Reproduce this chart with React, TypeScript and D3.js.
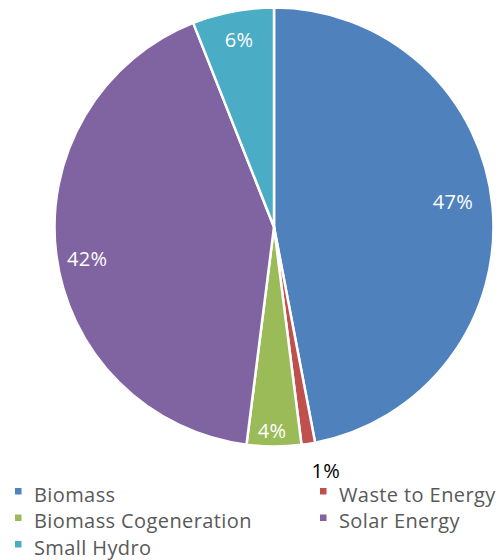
import React from "react";
import * as d3 from "d3";

// Share of installed capacity by source
const categories = ["Biomass", "Waste to Energy", "Biomass Cogeneration", "Solar Energy", "Small Hydro"];
const shares = [47, 1, 4, 42, 6];
const colors = ["#4F81BD", "#C0504D", "#9BBB59", "#8064A2", "#4BACC6"];
// label placement: distance from centre (fraction of radius) and position along the slice (0 = start, 1 = end)
const labelRadius = [0.823, 1.137, 0.93, 0.864, 0.869];
const labelAlong = [0.485, -0.33, 0.54, 0.483, 0.51];
const labelInside = [true, false, true, true, true];

const W = 501;
const H = 560;
const cx = 274;
const cy = 227;
const R = 219.5;
const FONT = "'Open Sans', Lato, sans-serif";
const LABEL_SIZE = 20;

export default function App() {
  const pie = d3.pie<number>().sort(null).value((d) => d);
  const arcs = pie(shares);
  const arc = d3.arc<d3.PieArcDatum<number>>().innerRadius(0).outerRadius(R);

  const legendRows = d3.scalePoint<number>().domain([0, 1, 2]).range([501.5, 554.5]);
  const legendCols = d3.scaleOrdinal<number, number>().domain([0, 1]).range([15, 320]);

  return (
    <svg
      width={W}
      height={H}
      style={{ position: "absolute", left: 0, top: 0, background: "#fff" }}
    >
      <g transform={`translate(${cx},${cy})`}>
        {arcs.map((a, i) => (
          <path key={categories[i]} d={arc(a) || ""} fill={colors[i]} stroke="#fff" strokeWidth={2.5} strokeLinejoin="round" />
        ))}
        {arcs.map((a, i) => {
          const ang = a.startAngle + (a.endAngle - a.startAngle) * labelAlong[i];
          const r = R * labelRadius[i];
          const x = r * Math.sin(ang);
          const y = -r * Math.cos(ang);
          return (
            <text
              key={"l" + i}
              x={x}
              y={y + LABEL_SIZE * 0.36}
              textAnchor="middle"
              fontFamily={FONT}
              fontSize={LABEL_SIZE}
              letterSpacing={0.3}
              fill={labelInside[i] ? "#fff" : "#000"}
            >
              {shares[i]}%
            </text>
          );
        })}
      </g>
      <g>
        {categories.map((c, i) => {
          const col = i % 2;
          const row = Math.floor(i / 2);
          const x = legendCols(col);
          const y = legendRows(row) || 0;
          return (
            <g key={c} transform={`translate(${x},${y})`}>
              <rect x={0} y={-13.5} width={6.5} height={6.5} fill={colors[i]} />
              <text x={19} y={0} fontFamily={FONT} fontSize={20} letterSpacing={0.4} fill="#595959">
                {c}
              </text>
            </g>
          );
        })}
      </g>
    </svg>
  );
}
